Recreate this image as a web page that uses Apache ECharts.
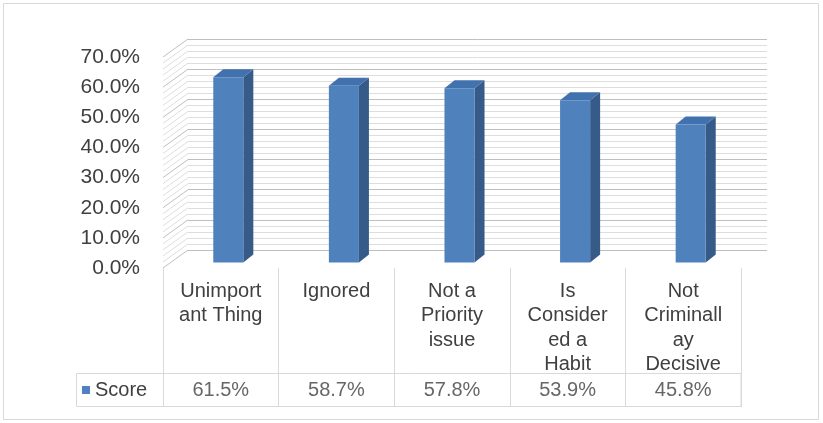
<!DOCTYPE html>
<html>
<head>
<meta charset="utf-8">
<script src="https://cdn.jsdelivr.net/npm/echarts@6/dist/echarts.min.js"></script>
<style>
html,body{margin:0;padding:0;background:#fff;}
#c{width:823px;height:423px;}
</style>
</head>
<body>
<div id="c"></div>
<script>
const categories = ['Unimportant Thing', 'Ignored', 'Not a Priority issue', 'Is Considered a Habit', 'Not Criminallay Decisive'];
const categoryLabels = ['Unimport\nant Thing', 'Ignored', 'Not a\nPriority\nissue', 'Is\nConsider\ned a\nHabit', 'Not\nCriminall\nay\nDecisive'];
const scores = [61.5, 58.7, 57.8, 53.9, 45.8];
const seriesName = 'Score';
const yMin = 0, yMax = 70, yStep = 10, minorParts = 5;

const FONT = '"Liberation Sans", Arial, sans-serif';
const TXT = '#404040';

// wall line values (major + minor gridlines of the value axis)
const wallLines = [];
for (let k = 0; k <= (yMax - yMin) / yStep * minorParts; k++) {
  wallLines.push([0, yMin + k * yStep / minorParts, k % minorParts === 0 ? 1 : 0]);
}

const chart = echarts.init(document.getElementById('c'), null, {renderer: 'canvas'});

const option = {
  animation: false,
  backgroundColor: '#fff',
  textStyle: {fontFamily: FONT},
  legend: {
    data: [seriesName],
    left: 82, top: 380, padding: 0,
    icon: 'rect', itemWidth: 8, itemHeight: 8,
    selectedMode: false,
    textStyle: {fontSize: 20, color: TXT, fontFamily: FONT}
  },
  grid: [
    {left: 163, right: 82, top: 57, bottom: 155},
    {left: 188, right: 56, top: 39, bottom: 173},
    {left: 170.5, right: 74.5, top: 51.6, bottom: 160.4},
    {left: 163, right: 82, top: 268, bottom: 16},
    {left: 163, right: 82, top: 373, bottom: 16}
  ],
  xAxis: [
    {gridIndex: 0, type: 'category', data: categoryLabels, boundaryGap: true,
      axisLine: {show: false}, axisTick: {show: false}, splitLine: {show: false},
      axisLabel: {interval: 0, margin: 11, fontSize: 20, lineHeight: 24.5, color: TXT, fontFamily: FONT, verticalAlign: 'top'}},
    {gridIndex: 1, type: 'value', min: 0, max: 1, show: false},
    {gridIndex: 2, type: 'category', data: categories, show: false},
    {gridIndex: 3, type: 'category', data: categories, boundaryGap: true,
      axisLine: {show: false}, axisTick: {show: false}, axisLabel: {show: false},
      splitLine: {show: true, interval: 0, lineStyle: {color: '#d9d9d9', width: 1}}},
    {gridIndex: 4, type: 'category', data: categories, show: false}
  ],
  yAxis: [
    {gridIndex: 0, type: 'value', min: yMin, max: yMax, interval: yStep,
      axisLine: {show: false}, axisTick: {show: false}, splitLine: {show: false},
      axisLabel: {margin: 23, fontSize: 21, color: TXT, fontFamily: FONT,
        formatter: v => v.toFixed(1) + '%'}},
    {gridIndex: 1, type: 'value', min: yMin, max: yMax, interval: yStep,
      axisLine: {show: false}, axisTick: {show: false}, axisLabel: {show: false},
      splitLine: {show: true, lineStyle: {color: '#bfbfbf', width: 1}},
      minorTick: {show: false, splitNumber: minorParts},
      minorSplitLine: {show: true, lineStyle: {color: '#dedede', width: 1}}},
    {gridIndex: 2, type: 'value', min: yMin, max: yMax, show: false},
    {gridIndex: 3, type: 'value', min: 0, max: 1, show: false},
    {gridIndex: 4, type: 'value', min: 0, max: 1, show: false}
  ],
  graphic: [
    {type: 'rect', shape: {x: 3.5, y: 3.5, width: 815, height: 416},
      style: {fill: 'none', stroke: '#d9d9d9', lineWidth: 1}, z: -10},
    {type: 'rect', shape: {x: 76.5, y: 373.5, width: 664.5, height: 33},
      style: {fill: 'none', stroke: '#d9d9d9', lineWidth: 1}, z: 1}
  ],
  series: [
    {
      type: 'custom', name: 'wall', xAxisIndex: 1, yAxisIndex: 1,
      data: wallLines, silent: true, z: 1,
      renderItem: function (params, api) {
        const p = api.coord([0, api.value(1)]);
        const major = api.value(2) === 1;
        return {
          type: 'line',
          shape: {x1: p[0] - 25, y1: p[1] + 18, x2: p[0], y2: p[1]},
          style: {stroke: major ? '#bfbfbf' : '#dedede', lineWidth: 1}
        };
      }
    },
    {
      type: 'custom', name: seriesName, xAxisIndex: 2, yAxisIndex: 2,
      itemStyle: {color: '#4f81bd'},
      data: scores.map((v, i) => [i, v]),
      encode: {x: 0, y: 1}, z: 5,
      renderItem: function (params, api) {
        const i = api.value(0), v = api.value(1);
        const base = api.coord([i, 0]);
        const top = api.coord([i, v]);
        const band = api.size([1, 0])[0];
        const w = band * 0.26;
        const x0 = base[0] - w / 2, x1 = base[0] + w / 2;
        const yb = base[1], yt = top[1];
        const dx = 10, dy = -8;
        return {
          type: 'group',
          children: [
            {type: 'polygon', shape: {points: [[x1, yt], [x1 + dx, yt + dy], [x1 + dx, yb + dy], [x1, yb]]},
              style: {fill: '#365b88'}},
            {type: 'polygon', shape: {points: [[x0, yt], [x1, yt], [x1 + dx, yt + dy], [x0 + dx, yt + dy]]},
              style: {fill: '#4172ad'}},
            {type: 'rect', shape: {x: x0, y: yt, width: w, height: yb - yt},
              style: {fill: '#4f81bd'}}
          ]
        };
      }
    },
    {
      type: 'scatter', name: 'values', xAxisIndex: 4, yAxisIndex: 4,
      symbolSize: 0, silent: true,
      data: scores.map((v, i) => [i, 0.5, v]),
      label: {show: true, position: 'inside', fontSize: 20, color: TXT, fontFamily: FONT,
        formatter: p => p.value[2].toFixed(1) + '%'}
    }
  ]
};
chart.setOption(option);
</script>
</body>
</html>
